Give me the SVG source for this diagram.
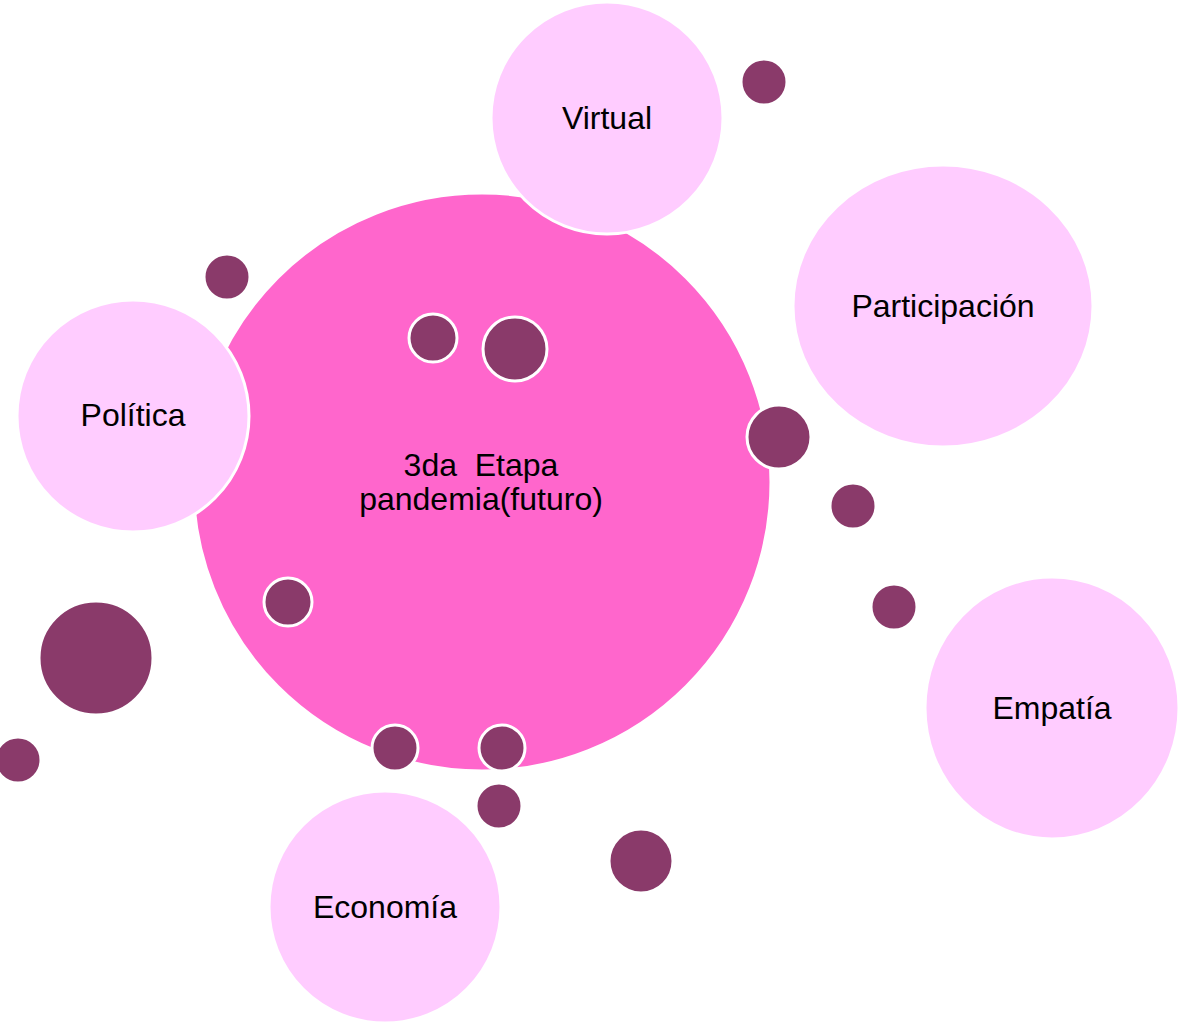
<svg xmlns="http://www.w3.org/2000/svg" width="1178" height="1022" viewBox="0 0 1178 1022">
<style>
.main{fill:#FF66CC;stroke:#FFFFFF;stroke-width:3}
.node{fill:#FFCCFF;stroke:#FFFFFF;stroke-width:3}
.dot{fill:#8A3A6A;stroke:#FFFFFF;stroke-width:3}
text{font-family:"Liberation Sans",Arial,sans-serif;font-size:32px;fill:#000000;text-anchor:middle;white-space:pre}
</style>
<rect width="1178" height="1022" fill="#FFFFFF"/>
<g id="center">
<circle class="main" cx="482" cy="482" r="289"/>
<text x="481" y="476" xml:space="preserve">3da  Etapa</text>
<text x="481" y="510">pandemia(futuro)</text>
</g>
<g id="virtual">
<circle class="node" cx="607" cy="118" r="116"/>
<text x="607" y="129">Virtual</text>
</g>
<g id="participacion">
<ellipse class="node" cx="943" cy="306" rx="150" ry="141"/>
<text x="943" y="317">Participación</text>
</g>
<g id="politica">
<circle class="node" cx="133" cy="416" r="116"/>
<text x="133" y="426">Política</text>
</g>
<g id="empatia">
<ellipse class="node" cx="1052" cy="708" rx="127" ry="131"/>
<text x="1052" y="719">Empatía</text>
</g>
<g id="economia">
<circle class="node" cx="385" cy="907" r="116"/>
<text x="385" y="918">Economía</text>
</g>
<g id="connectors"></g>
<g id="dots">
<circle class="dot" cx="764" cy="82" r="23"/>
<circle class="dot" cx="227" cy="277" r="23"/>
<circle class="dot" cx="433" cy="338" r="24"/>
<circle class="dot" cx="515" cy="349" r="32"/>
<circle class="dot" cx="779" cy="437" r="32"/>
<circle class="dot" cx="853" cy="506" r="23"/>
<circle class="dot" cx="894" cy="607" r="23"/>
<circle class="dot" cx="288" cy="602" r="24"/>
<circle class="dot" cx="96" cy="658" r="57"/>
<circle class="dot" cx="18" cy="760" r="23"/>
<circle class="dot" cx="395" cy="748" r="23"/>
<circle class="dot" cx="502" cy="748" r="23"/>
<circle class="dot" cx="499" cy="806" r="23"/>
<circle class="dot" cx="641" cy="861" r="32"/>
</g>
</svg>
